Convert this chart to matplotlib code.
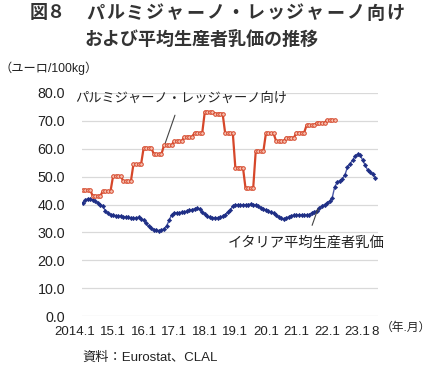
import numpy as np
import matplotlib
matplotlib.use("Agg")
import matplotlib.pyplot as plt
from matplotlib.transforms import blended_transform_factory

plt.rcParams['font.family'] = ['Liberation Sans', 'Noto Sans CJK JP', 'DejaVu Sans']

# ---- data (euro / 100kg), monthly from 2014.1 ----
parmigiano = [
    45.2, 45.2, 45.2, 45.2,  43.1, 43.1, 43.1, 43.1,  44.8, 44.8, 44.8, 44.8,
    50.2, 50.2, 50.2, 50.2,  48.4, 48.4, 48.4, 48.4,  54.5, 54.5, 54.5, 54.5,
    60.3, 60.3, 60.3, 60.3,  58.1, 58.1, 58.1, 58.1,  61.3, 61.3, 61.3, 61.3,
    62.8, 62.8, 62.8, 62.8,  64.3, 64.3, 64.3, 64.3,  65.7, 65.7, 65.7, 65.7,
    73.2, 73.2, 73.2, 73.2,  72.6, 72.6, 72.6, 72.6,  65.6, 65.6, 65.6, 65.6,
    53.2, 53.2, 53.2, 53.2,  45.8, 45.8, 45.8, 45.8,  59.1, 59.1, 59.1, 59.1,
    65.5, 65.5, 65.5, 65.5,  62.8, 62.8, 62.8, 62.8,  64.0, 64.0, 64.0, 64.0,
    65.8, 65.8, 65.8, 65.8,  68.5, 68.5, 68.5, 68.5,  69.3, 69.3, 69.3, 69.3,
    70.3, 70.3, 70.3, 70.3,
]
italy_avg = [
    40.6, 41.5, 42.1, 42.0, 41.6, 41.3, 40.6, 40.0, 39.5, 37.6, 36.8, 36.4,
    36.2, 36.0, 35.8, 35.8, 35.6, 35.5, 35.4, 35.2, 35.0, 35.2, 35.4, 34.8,
    34.4, 33.2, 32.2, 31.5, 31.0, 30.8, 30.6, 30.8, 31.3, 32.3, 34.3, 36.4,
    37.0, 37.0, 37.1, 37.2, 37.4, 37.6, 37.9, 38.2, 38.5, 38.7, 38.3, 37.3,
    36.6, 35.8, 35.4, 35.2, 35.3, 35.2, 35.4, 35.8, 36.4, 37.2, 38.0, 39.5,
    39.8, 39.8, 39.7, 39.8, 39.9, 40.0, 40.1, 40.0, 39.8, 39.4, 38.9, 38.5,
    38.0, 37.6, 37.3, 36.8, 36.2, 35.4, 35.0, 34.8, 35.2, 35.6, 36.0, 36.2,
    36.2, 36.3, 36.3, 36.2, 36.3, 36.4, 37.0, 37.3, 37.8, 38.8, 39.5, 40.0,
    40.6, 41.2, 42.3, 46.3, 48.0, 48.6, 49.2, 50.6, 53.3, 54.7, 55.8, 57.4,
    58.0, 57.9, 55.8, 54.1, 52.2, 51.6, 50.8, 49.6,
]
x_labels = ["2014.1", "15.1", "16.1", "17.1", "18.1", "19.1", "20.1",
            "21.1", "22.1", "23.1", "8"]
x_label_months = [-3, 12, 24, 36, 48, 60, 72, 84, 96, 108, 115]
y_ticks = [0, 10, 20, 30, 40, 50, 60, 70, 80]

W, H = 430, 366
fig = plt.figure(figsize=(W / 100, H / 100), dpi=100)
ax = fig.add_axes([82 / W, 1 - 316 / H, (378 - 82) / W, (316 - 93) / H])

xr = np.arange(len(parmigiano))
xb = np.arange(len(italy_avg))

ax.plot(xb, italy_avg, color='#4a58a8', lw=1.0, marker='D', ms=2.2,
        mfc='#1f2f86', mec='#1f2f86', mew=0.4, zorder=3)
ax.plot(xr, parmigiano, color='#d6472a', lw=1.6, marker='o', ms=2.6,
        mfc='#f5c1b2', mec='#d6472a', mew=0.7, zorder=4)

ax.set_xlim(-0.2, 116)
ax.set_ylim(0, 80)
ax.set_yticks(y_ticks)
ax.set_yticklabels([f"{v:.1f}" for v in y_ticks], fontsize=10.3, color='#222222')
ax.tick_params(axis='y', length=0, pad=12)
ax.set_xticks([])
ax.grid(axis='y', color='#d9d9d9', lw=0.9)
ax.set_axisbelow(True)
for s in ax.spines.values():
    s.set_visible(False)

# x labels
trans = blended_transform_factory(ax.transData, fig.transFigure)
for lab, m in zip(x_labels, x_label_months):
    ax.text(m, 1 - 332 / H, lab, transform=trans, ha='center', va='center',
            fontsize=9.5, color='#222222', clip_on=False)
fig.text(405.5 / W, 1 - 328 / H, "（年.月）", ha='center', va='center',
         fontsize=8.5, color='#222222')

# annotations
ax.annotate("パルミジャーノ・レッジャーノ向け", xy=(32.2, 61.3), xytext=(38.6, 78.1),
            ha='center', va='center', fontsize=9.5, color='#222222',
            arrowprops=dict(arrowstyle='-', color='#444444', lw=0.8,
                            shrinkA=6, shrinkB=0))
ax.annotate("イタリア平均生産者乳価", xy=(92.4, 38.4), xytext=(87.7, 26.2),
            ha='center', va='center', fontsize=10.3, color='#222222',
            arrowprops=dict(arrowstyle='-', color='#444444', lw=0.8,
                            shrinkA=6, shrinkB=0))

# title (first line letter-spaced like the reference)
title1_a = "図８"
title1_b = "パルミジャーノ・レッジャーノ向け"
fig.text(30 / W, 1 - 14 / H, title1_a, ha='left', va='center',
         fontsize=13, fontweight='bold', color='#333333')
for i, ch in enumerate(title1_b):
    fig.text((95 + 20 * i) / W, 1 - 14 / H, ch, ha='center', va='center',
             fontsize=13, fontweight='bold', color='#333333')
fig.text(202 / W, 1 - 40 / H, "および平均生産者乳価の推移",
         ha='center', va='center', fontsize=13, fontweight='bold', color='#333333')
fig.text(0 / W, 1 - 68 / H, "（ユーロ/100kg）", ha='left', va='center',
         fontsize=8.8, color='#222222')
fig.text(82 / W, 1 - 358 / H, "資料：Eurostat、CLAL", ha='left', va='center',
         fontsize=9.5, color='#222222')

fig.savefig("out.png", dpi=100)
